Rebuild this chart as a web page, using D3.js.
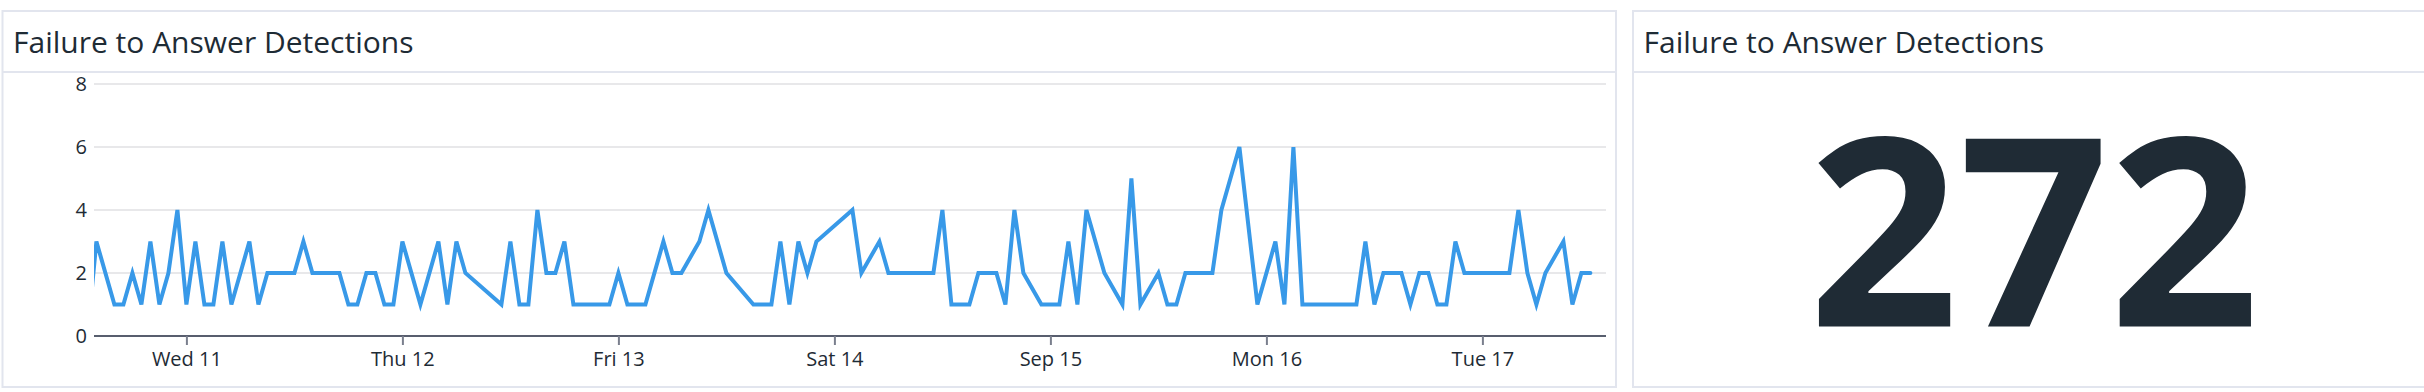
<!DOCTYPE html>
<html>
<head>
<meta charset="utf-8">
<script src="https://cdn.jsdelivr.net/npm/d3@7"></script>
<style>
  html, body { margin: 0; padding: 0; background: #ffffff; }
  svg { display: block; font-family: "Open Sans", "Noto Sans", sans-serif; }
</style>
</head>
<body>
<svg id="chart" width="2424" height="392"></svg>
<script>
// ---------------- data ----------------
const chartTitle = "Failure to Answer Detections";
const totalValue = 272;
// hourly counts, first entry at Sep 10 2019 13:00 (local); null = no point that hour
const seriesStart = [2019, 8, 10, 13];
const hourlyCounts = [
  0,
  3, null, 1, 1, 2, 1, 3, 1, 2, 4,
  1, 3, 1, 1, 3, 1, null, 3, 1, 2,
  2, 2, 2, 3, 2, 2, 2, 2, 1, 1,
  2, 2, 1, 1, 3, null, 1, null, 3, 1,
  3, 2, null, null, null, 1, 3, 1, 1, 4,
  2, 2, 3, 1, 1, 1, 1, 1, 2, 1,
  1, 1, null, 3, 2, 2, null, 3, 4, null,
  2, null, null, 1, 1, 1, 3, 1, 3, 2,
  3, null, null, null, 4, 2, null, 3, 2, 2,
  2, 2, 2, 2, 4, 1, 1, 1, 2, 2,
  2, 1, 4, 2, null, 1, 1, 1, 3, 1,
  4, null, 2, null, 1, 5, 1, null, 2, 1,
  1, 2, 2, 2, 2, 4, null, 6, null, 1,
  null, 3, 1, 6, 1, 1, 1, 1, 1, 1,
  1, 3, 1, 2, 2, 2, 1, 2, 2, 1,
  1, 3, 2, 2, 2, 2, 2, 2, 4, 2,
  1, 2, null, 3, 1, 2, 2
];
const domainStart = [2019, 8, 10, 13, 44];
const domainEnd = [2019, 8, 17, 13, 44];
const xTickDays = [11, 12, 13, 14, 15, 16, 17];
const xTickLabels = ["Wed 11", "Thu 12", "Fri 13", "Sat 14", "Sep 15", "Mon 16", "Tue 17"];
const yTicks = [0, 2, 4, 6, 8];

// ---------------- build ----------------
const points = hourlyCounts.map((v, i) => ({
  t: new Date(seriesStart[0], seriesStart[1], seriesStart[2], seriesStart[3] + i),
  v: v
})).filter(d => d.v !== null);

const svg = d3.select("#chart");
const textColor = "#1e2b35";
const borderColor = "#e2e5ee";

// panels
function panel(x0, x1) {
  const g = svg.append("g");
  g.append("rect").attr("x", x0).attr("y", 11).attr("width", x1 - x0).attr("height", 376)
    .attr("fill", "#fff").attr("stroke", borderColor).attr("stroke-width", 2);
  g.append("line").attr("x1", x0).attr("x2", x1).attr("y1", 72).attr("y2", 72)
    .attr("stroke", borderColor).attr("stroke-width", 2);
  g.append("text").attr("x", x0 + 10.5).attr("y", 53).attr("fill", textColor)
    .attr("font-size", 30).text(chartTitle);
  return g;
}
panel(2.5, 1616);
panel(1633, 2440);

// scales
const plotLeft = 94, plotRight = 1606, plotTop = 84, plotBottom = 336;
const x = d3.scaleTime()
  .domain([new Date(...domainStart), new Date(...domainEnd)])
  .range([plotLeft, plotRight]);
const y = d3.scaleLinear().domain([0, 8]).range([plotBottom, plotTop]);

// grid
svg.append("g").selectAll("line").data(yTicks.filter(t => t !== 0)).join("line")
  .attr("x1", plotLeft).attr("x2", plotRight)
  .attr("y1", d => y(d)).attr("y2", d => y(d))
  .attr("stroke", "#e8e8ea").attr("stroke-width", 2);

// y axis
const yAxis = svg.append("g").attr("transform", `translate(${plotLeft},0)`)
  .call(d3.axisLeft(y).tickValues(yTicks).tickSize(0).tickPadding(7));
yAxis.select(".domain").remove();
yAxis.selectAll("text").attr("font-size", 20).attr("fill", textColor)
  .attr("font-family", "Open Sans");

// line
svg.append("clipPath").attr("id", "plotclip").append("rect")
  .attr("x", plotLeft).attr("y", 0).attr("width", plotRight - plotLeft).attr("height", 392);
svg.append("path").datum(points)
  .attr("clip-path", "url(#plotclip)")
  .attr("fill", "none").attr("stroke", "#3899e8").attr("stroke-width", 4)
  .attr("stroke-linejoin", "miter").attr("stroke-linecap", "round")
  .attr("d", d3.line().x(d => x(d.t)).y(d => y(d.v)));

// x axis
const tickDates = xTickDays.map(d => new Date(2019, 8, d));
const xAxis = svg.append("g").attr("transform", `translate(0,${plotBottom})`)
  .call(d3.axisBottom(x).tickValues(tickDates)
    .tickFormat((d, i) => xTickLabels[i]).tickSize(9).tickSizeOuter(0).tickPadding(7));
xAxis.select(".domain").attr("stroke", "#585e6e").attr("stroke-width", 2)
  .attr("d", `M${plotLeft},0H${plotRight}`);
xAxis.selectAll(".tick line").attr("stroke", "#7a7f8d").attr("stroke-width", 2);
xAxis.selectAll("text").attr("font-size", 20).attr("fill", textColor)
  .attr("font-family", "Open Sans");

// big number
svg.append("text").attr("x", 2034).attr("y", 326.5).attr("text-anchor", "middle")
  .attr("font-size", 263).attr("font-weight", 700).attr("fill", "#1f2b35")
  .text(totalValue);
</script>
</body>
</html>
